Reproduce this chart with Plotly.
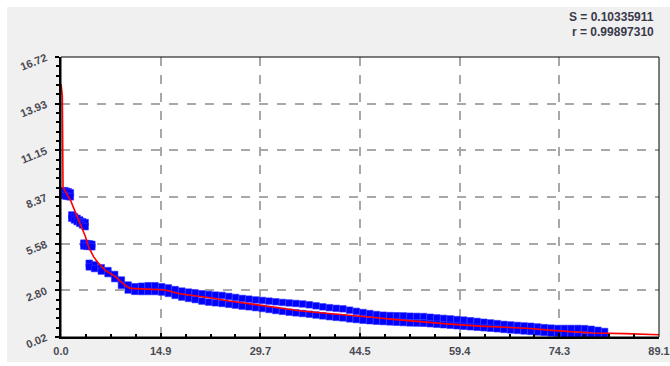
import plotly.graph_objects as go

# ---- data ----
# fitted curve (red)
fit_x = [0.0, 0.2, 0.3, 0.7, 1.4, 2.2, 2.9, 3.65, 4.1, 4.85, 5.4, 6.55, 8.1, 9.5, 10.3,
         12.0, 14.1, 15.5, 17.7, 20.8, 22.7, 25.0, 27.5, 29.7, 32.7, 35.6, 38.6, 42.0,
         45.5, 49.5, 53.5, 58.0, 62.4, 66.0, 69.3, 73.6, 79.3, 84.0, 89.1]
fit_y = [15.1, 14.4, 8.95, 8.65, 8.19, 7.41, 6.7, 6.0, 5.4, 4.81, 4.51, 4.01, 3.62, 3.12, 2.92,
         2.88, 2.86, 2.82, 2.6, 2.46, 2.33, 2.17, 2.03, 1.93, 1.73, 1.59, 1.47, 1.37,
         1.23, 1.07, 0.93, 0.79, 0.67, 0.6, 0.54, 0.4, 0.26, 0.22, 0.15]

# measured points (blue): x positions with upper / lower edge values of the band
obs_x = [0.5, 0.8, 1.1, 1.4,
         1.6, 2.0, 2.4, 2.8, 3.2, 3.6,
         3.4, 3.8, 4.2, 4.6,
         4.2, 5, 6, 7, 8, 9, 10, 11, 12, 13, 14, 15, 16, 17, 18, 19, 20,
         21, 22, 23, 24, 25, 26, 27, 28, 29, 30, 31, 32, 33, 34, 35, 36, 37, 38, 39, 40,
         41, 42, 43, 44, 45, 46, 47, 48, 49, 50, 51, 52, 53, 54, 55, 56, 57, 58, 59, 60,
         61, 62, 63, 64, 65, 66, 67, 68, 69, 70, 71, 72, 73, 74, 75, 76, 77, 78, 79, 80, 81]
obs_hi = [8.75, 8.72, 8.68, 8.62,
          7.3, 7.2, 7.1, 7.0, 6.9, 6.85,
          5.62, 5.6, 5.58, 5.55,
          4.42, 4.32, 4.15, 3.98, 3.75, 3.42, 3.12, 3.02, 3.05, 3.08, 3.08, 3.02, 2.95, 2.85, 2.76, 2.7, 2.65,
          2.6, 2.56, 2.52, 2.5, 2.44, 2.38, 2.32, 2.28, 2.23, 2.2, 2.16, 2.12, 2.08, 2.05, 2.02, 1.99, 1.94, 1.88, 1.82, 1.77,
          1.73, 1.7, 1.62, 1.55, 1.48, 1.42, 1.36, 1.32, 1.3, 1.29, 1.28, 1.26, 1.25, 1.24, 1.2, 1.16, 1.13, 1.1, 1.06, 1.03,
          0.99, 0.95, 0.9, 0.86, 0.82, 0.77, 0.74, 0.71, 0.68, 0.66, 0.62, 0.58, 0.55, 0.53, 0.53, 0.53, 0.53, 0.52, 0.48, 0.42, 0.35]
obs_lo = [8.45, 8.42, 8.4, 8.38,
          7.1, 7.0, 6.9, 6.8, 6.7, 6.6,
          5.45, 5.43, 5.42, 5.4,
          4.2, 4.1, 3.95, 3.8, 3.5, 3.1, 2.82, 2.74, 2.73, 2.73, 2.73, 2.7, 2.62, 2.5, 2.4, 2.32, 2.25,
          2.16, 2.1, 2.06, 2.02, 1.97, 1.92, 1.86, 1.82, 1.77, 1.72, 1.66, 1.6, 1.55, 1.5, 1.46, 1.42, 1.38, 1.33, 1.28, 1.23,
          1.19, 1.16, 1.1, 1.06, 1.02, 0.99, 0.96, 0.94, 0.92, 0.9, 0.88, 0.86, 0.85, 0.84, 0.81, 0.78, 0.75, 0.72, 0.69, 0.66,
          0.63, 0.6, 0.57, 0.54, 0.51, 0.47, 0.44, 0.41, 0.38, 0.35, 0.32, 0.29, 0.26, 0.24, 0.18, 0.12, 0.07, 0.05, 0.05, 0.05, 0.05]

x_tickvals = [0.0, 14.85, 29.7, 44.55, 59.4, 74.25, 89.1]
x_ticktext = ["0.0", "14.9", "29.7", "44.5", "59.4", "74.3", "89.1"]
y_tickvals = [0.02, 2.8033, 5.5867, 8.37, 11.1533, 13.9367, 16.72]
y_ticktext = ["0.02", "2.80", "5.58", "8.37", "11.15", "13.93", "16.72"]
stat_lines = ["S = 0.10335911", "r = 0.99897310"]

fig = go.Figure()
fig.add_trace(go.Scatter(
    x=obs_x + obs_x, y=obs_hi + obs_lo, mode="markers",
    marker=dict(symbol="square", size=6.5, color="#0000ff", line=dict(width=0.6, color="#3030ff")),
    showlegend=False, hoverinfo="skip"))
fig.add_trace(go.Scatter(
    x=fit_x, y=fit_y, mode="lines",
    line=dict(color="#ff0000", width=1.6),
    showlegend=False, hoverinfo="skip"))

tick_font = dict(family="Liberation Sans, Arial, sans-serif", size=11, color="#4a4a52", weight="bold")

# plot area in pixels: x 61..659, y 57..337 -> white outer strips around grey panel
PL, PR, PT, PB = 61, 659, 57, 337
def px_x(p):
    return (p - PL) / (PR - PL)
def px_y(p):
    return (PB - p) / (PB - PT)

white_strips = [
    (0, 7, 0, 366),      # left
    (0, 670, 0, 7),      # top
    (0, 670, 362, 366),  # bottom
]
shapes = [dict(type="rect", xref="paper", yref="paper", x0=0, y0=0, x1=1, y1=1,
               line=dict(color="#000", width=1), layer="above")]
for (xa, xb, ya, yb) in white_strips:
    shapes.append(dict(type="rect", xref="paper", yref="paper",
                       x0=px_x(xa), x1=px_x(xb), y0=px_y(yb), y1=px_y(ya),
                       line=dict(width=0), fillcolor="#ffffff", layer="above"))

fig.update_layout(
    width=670, height=366,
    margin=dict(l=PL, r=670 - PR, t=PT, b=366 - PB),
    paper_bgcolor="#f0f0f0", plot_bgcolor="#ffffff",
    xaxis=dict(range=[0, 89.1], tickvals=x_tickvals, ticktext=x_ticktext, automargin=False,
               ticks="inside", ticklen=4, tickcolor="#000", tickwidth=1.5, ticklabelstandoff=3,
               minor=dict(dtick=3.7125, tick0=0, ticks="inside", ticklen=3, tickcolor="#000", showgrid=False),
               showgrid=True, griddash="dash", gridcolor="#a8a8a8", gridwidth=1.5,
               showline=True, linecolor="#000", linewidth=2, zeroline=False,
               tickfont=tick_font),
    yaxis=dict(range=[0.02, 16.72], tickvals=y_tickvals, ticktext=y_ticktext, automargin=False,
               ticks="outside", ticklen=4, tickcolor="#000", tickwidth=1.5, tickangle=-22,
               ticklabelstandoff=7,
               minor=dict(dtick=0.556667, tick0=0.02, ticks="outside", ticklen=3, tickcolor="#000", showgrid=False),
               showgrid=True, griddash="dash", gridcolor="#a8a8a8", gridwidth=1.5,
               showline=True, linecolor="#000", linewidth=2, zeroline=False,
               tickfont=tick_font),
    shapes=shapes,
)

for i, txt in enumerate(stat_lines):
    fig.add_annotation(text=txt, xref="paper", yref="paper", x=1, y=1,
                       xanchor="right", yanchor="middle", showarrow=False,
                       xshift=-3, yshift=40 - 15 * i,
                       font=dict(family="Liberation Sans, Arial, sans-serif", size=12,
                                 color="#3a3a4a", weight="bold"))

fig.write_html("out.html", config={"displayModeBar": False},
               post_script="document.body.style.margin='0';document.body.style.background='#ffffff';")
